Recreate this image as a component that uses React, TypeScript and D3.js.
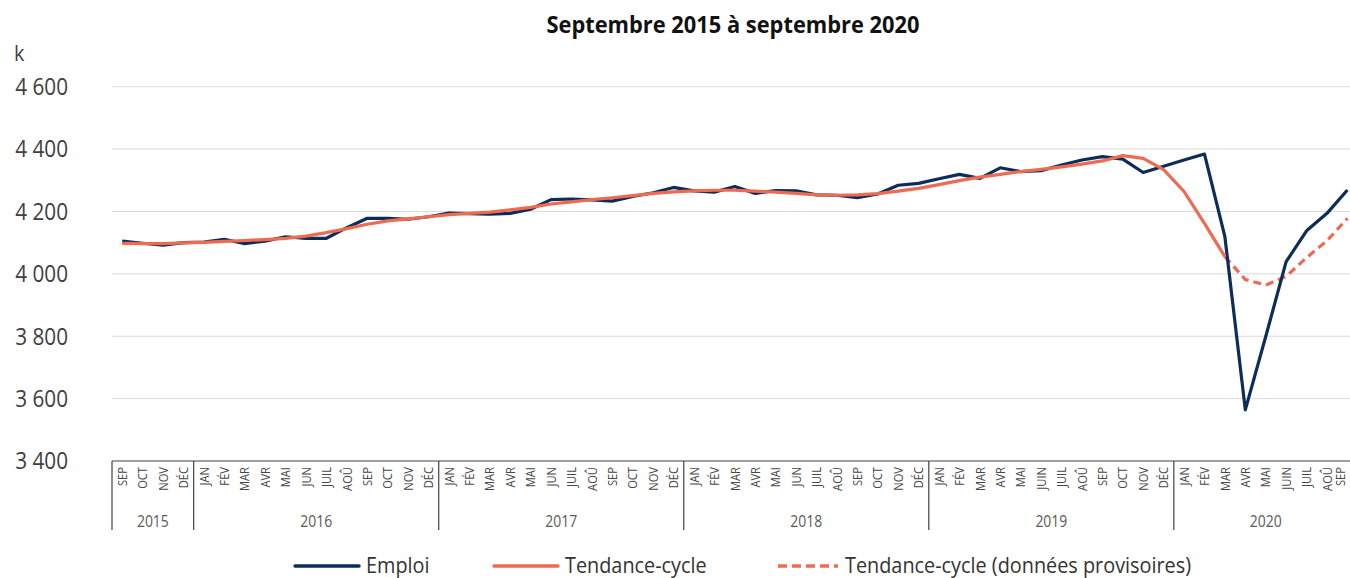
import React from "react";
import * as d3 from "d3";

const months = ["SEP","OCT","NOV","DÉC",
  "JAN","FÉV","MAR","AVR","MAI","JUN","JUIL","AOÛ","SEP","OCT","NOV","DÉC",
  "JAN","FÉV","MAR","AVR","MAI","JUN","JUIL","AOÛ","SEP","OCT","NOV","DÉC",
  "JAN","FÉV","MAR","AVR","MAI","JUN","JUIL","AOÛ","SEP","OCT","NOV","DÉC",
  "JAN","FÉV","MAR","AVR","MAI","JUIN","JUIL","AOÛ","SEP","OCT","NOV","DÉC",
  "JAN","FÉV","MAR","AVR","MAI","JUIN","JUIL","AOÛ","SEP"];

const years = ["2015","2016","2017","2018","2019","2020"];
const yearSizes = [4, 12, 12, 12, 12, 9];

const emploi = [4105,4098,4092,4100,4102,4111,4097,4105,4119,4114,4114,4148,4178,4178,4175,4183,
  4195,4193,4191,4194,4207,4238,4240,4237,4233,4248,4260,4277,4266,4262,4280,4258,
  4267,4266,4253,4252,4244,4256,4284,4290,4305,4319,4306,4340,4328,4331,4349,4365,
  4376,4368,4325,4345,4365,4384,4119,3564,3799,4039,4138,4194,4269];

const tendance = [4098,4097,4097,4099,4101,4104,4107,4110,4114,4121,4132,4145,4159,4170,4176,4183,
  4190,4194,4198,4205,4213,4224,4231,4238,4244,4251,4258,4263,4266,4268,4268,4265,
  4262,4258,4253,4252,4253,4257,4265,4274,4286,4299,4310,4319,4328,4335,4343,4352,
  4362,4379,4370,4334,4264,4162,4055];

const provStart = 54;
const provisoire = [4055,3982,3964,3992,4052,4106,4178];

const yTicks = [3400,3600,3800,4000,4200,4400,4600];

const NAVY = "#0d2d59";
const CORAL = "#ee6a50";
const FONT = "'Open Sans', 'Noto Sans', sans-serif";

const fmt = (v: number) => {
  const s = String(v);
  return s.length > 3 ? s.slice(0, s.length - 3) + " " + s.slice(-3) : s;
};

function SText({ x, y, sx = 1, rot = 0, anchor = "start", size, weight = 400, fill = "#333", dy = "0", children }: any) {
  return (
    <g transform={`translate(${x},${y}) rotate(${rot}) scale(${sx},1)`}>
      <text x={0} y={0} dy={dy} textAnchor={anchor} fontSize={size} fontWeight={weight} fill={fill} fontFamily={FONT}>
        {children}
      </text>
    </g>
  );
}

export default function App() {
  const W = 1350, H = 578;
  const left = 112, band = 20.42;
  const idx = months.map((_, i) => i);
  const x = d3.scaleBand<number>().domain(idx).range([left, left + band * months.length]).padding(0);
  const cx = (i: number) => (x(i) as number) + x.bandwidth() / 2;
  const y = d3.scaleLinear().domain([3400, 4600]).range([461, 86.7]);

  const line = d3.line<[number, number]>().x(d => cx(d[0])).y(d => y(d[1]));
  const emploiPts = emploi.map((v, i) => [i, v] as [number, number]);
  const trendPts = tendance.map((v, i) => [i, v] as [number, number]);
  const provPts = provisoire.map((v, i) => [i + provStart, v] as [number, number]);

  const boundaries: number[] = [];
  let acc = 0;
  const yearCenters: number[] = [];
  yearSizes.forEach((n) => {
    boundaries.push(acc);
    yearCenters.push(left + band * (acc + n / 2));
    acc += n;
  });
  const x0 = y(3400);

  return (
    <svg width={W} height={H} style={{ position: "absolute", left: 0, top: 0, background: "#fff" }}>
      <rect width={W} height={H} fill="#fff" />
      <SText x={733} y={33} sx={0.95} anchor="middle" size={23} weight={700} fill="#111">
        Septembre 2015 à septembre 2020
      </SText>
      <SText x={14} y={60.5} sx={0.9} size={22} fill="#404040">k</SText>

      {yTicks.map(t => (
        <g key={t}>
          {t !== 3400 && <line x1={left} x2={W} y1={y(t)} y2={y(t)} stroke="#d9d9d9" strokeWidth={1} />}
          <SText x={68} y={y(t) + 8.3} sx={0.9} anchor="end" size={23} fill="#404040">{fmt(t)}</SText>
        </g>
      ))}

      <line x1={left} x2={W} y1={x0} y2={x0} stroke="#404040" strokeWidth={1.2} />
      {boundaries.map(b => (
        <line key={b} x1={left + band * b} x2={left + band * b} y1={x0} y2={530} stroke="#404040" strokeWidth={1.2} />
      ))}

      {months.map((m, i) => (
        <SText key={i} x={Math.min(cx(i), W - 10)} y={467} rot={-90} sx={0.86} anchor="end" dy="0.36em" size={13} fill="#474747">{m}</SText>
      ))}
      {years.map((yr, i) => (
        <SText key={yr} x={yearCenters[i]} y={527} sx={0.87} anchor="middle" size={16} fill="#595959">{yr}</SText>
      ))}

      <path d={line(provPts) || ""} fill="none" stroke={CORAL} strokeWidth={3.2} strokeDasharray="8,5" />
      <path d={line(emploiPts) || ""} fill="none" stroke={NAVY} strokeWidth={3.2} strokeLinejoin="round" />
      <path d={line(trendPts) || ""} fill="none" stroke={CORAL} strokeWidth={3.2} strokeLinejoin="round" />

      <line x1={295} x2={359} y1={566} y2={566} stroke={NAVY} strokeWidth={3.4} strokeLinecap="round" />
      <SText x={366} y={573} sx={0.945} size={21} fill="#333">Emploi</SText>
      <line x1={494} x2={558} y1={566} y2={566} stroke={CORAL} strokeWidth={3.4} strokeLinecap="round" />
      <SText x={565} y={573} sx={0.945} size={21} fill="#333">Tendance-cycle</SText>
      <line x1={778} x2={838} y1={566} y2={566} stroke={CORAL} strokeWidth={3.4} strokeDasharray="9,5" />
      <SText x={845} y={573} sx={0.945} size={21} fill="#333">Tendance-cycle (données provisoires)</SText>
    </svg>
  );
}
